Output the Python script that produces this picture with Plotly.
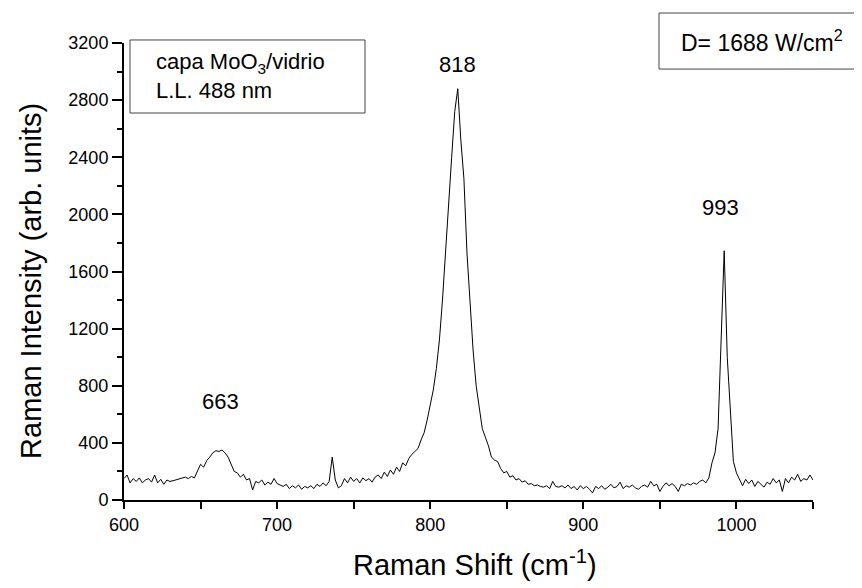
import plotly.graph_objects as go

# Raman shift (cm-1), 2 cm-1 steps from 600 to 1050
shift = list(range(600, 1052, 2))

intensity = [
    150, 175, 120, 150, 130, 155, 120, 140, 150, 125,   # 600-618
    175, 120, 145, 110, 140, 130, 135, 140, 145, 150,   # 620-638
    160, 150, 165, 155, 200, 250, 230, 275, 300, 330,   # 640-658
    345, 340, 350, 330, 300, 250, 200, 190, 160, 180,   # 660-678
    140, 150, 70, 130, 120, 140, 105, 125, 110, 150,    # 680-698
    115, 105, 95, 110, 80, 100, 85, 105, 75, 95,        # 700-718
    85, 100, 80, 110, 95, 120, 100, 130, 300, 140,      # 720-738
    85, 100, 150, 120, 160, 130, 150, 120, 155, 135,    # 740-758
    150, 125, 160, 175, 150, 195, 165, 210, 180, 230,   # 760-778
    200, 260, 240, 290, 320, 340, 360, 420, 470, 560,   # 780-798
    660, 770, 920, 1120, 1400, 1750, 2130, 2400, 2720, 2880,  # 800-818
    2520, 2250, 1730, 1400, 1050, 800, 640, 500, 440, 380,    # 820-838
    300, 280, 270, 220, 190, 200, 160, 170, 140, 150,   # 840-858
    125, 135, 110, 115, 100, 105, 95, 90, 100, 80,      # 860-878
    130, 95, 90, 100, 85, 105, 80, 95, 70, 100,         # 880-898
    80, 95, 75, 50, 95, 80, 100, 75, 90, 110,           # 900-918
    85, 95, 125, 80, 100, 90, 105, 85, 75, 95,          # 920-938
    105, 90, 130, 100, 110, 60, 95, 120, 100, 115,      # 940-958
    95, 60, 110, 100, 115, 105, 120, 110, 130, 140,     # 960-978
    120, 155, 260, 330, 500, 1150, 1745, 1000, 600, 270,  # 980-998
    190, 140, 100, 145, 115, 140, 95, 130, 110, 90,     # 1000-1018
    125, 110, 150, 120, 140, 60, 150, 120, 160, 140,    # 1020-1038
    180, 130, 150, 140, 175, 140,                       # 1040-1050
]

peak_pos = [662.7, 817.5, 989.3]
peak_y = [693, 3052, 2051]
peak_txt = ["663", "818", "993"]

x_ticks = [600, 700, 800, 900, 1000]
y_ticks = [0, 400, 800, 1200, 1600, 2000, 2400, 2800, 3200]

fig = go.Figure()
fig.add_trace(go.Scatter(x=shift, y=intensity, mode="lines",
                         line=dict(color="black", width=1), showlegend=False))

for px_, py_, t in zip(peak_pos, peak_y, peak_txt):
    fig.add_annotation(x=px_, y=py_, text=t, showarrow=False,
                       font=dict(size=22, color="black"))

# text boxes
fig.add_shape(type="rect", xref="paper", yref="paper",
              x0=0.0087, x1=0.3498, y0=0.8468, y1=1.0066,
              line=dict(color="#444444", width=1))
fig.add_annotation(xref="paper", yref="paper", x=0.043, y=0.9267,
                   xanchor="left", yanchor="middle", align="left", showarrow=False,
                   text="capa MoO<sub>3</sub>/vidrio<br>L.L. 488 nm",
                   font=dict(size=22, color="black"))

fig.add_shape(type="rect", xref="paper", yref="paper",
              x0=0.7765, x1=1.0668, y0=0.943, y1=1.0656,
              line=dict(color="#444444", width=1))
fig.add_annotation(xref="paper", yref="paper", x=0.926, y=1.0044,
                   xanchor="center", yanchor="middle", showarrow=False,
                   text="D= 1688 W/cm<sup>2</sup>",
                   font=dict(size=23, color="black"))

# axis titles
fig.add_annotation(xref="paper", yref="paper", x=0.51, y=-0.138,
                   xanchor="center", yanchor="middle", showarrow=False,
                   text="Raman Shift (cm<sup>-1</sup>)",
                   font=dict(size=29, color="black"))
fig.add_annotation(xref="paper", yref="paper", x=-0.136, y=0.48,
                   xanchor="center", yanchor="middle", showarrow=False, textangle=-90,
                   text="Raman Intensity (arb. units)",
                   font=dict(size=29, color="black"))

# page adds 8px body margin, so margins are offset to keep the plot in place
fig.update_layout(
    width=862, height=588,
    margin=dict(l=116, r=57, t=35, b=96),
    plot_bgcolor="white", paper_bgcolor="white",
    font=dict(family="Liberation Sans, Arial, sans-serif", color="black", size=18),
    xaxis=dict(
        range=[600, 1050], tickvals=x_ticks, ticks="outside", ticklen=7, tickwidth=1.5,
        tickcolor="black", showline=True, linecolor="black", linewidth=2,
        showgrid=False, zeroline=False, tickfont=dict(size=18),
        minor=dict(dtick=50, ticks="outside", ticklen=7, tickwidth=1.5, tickcolor="black"),
    ),
    yaxis=dict(
        range=[0, 3200], tickvals=y_ticks, ticks="outside", ticklen=10, tickwidth=1.5,
        tickcolor="black", showline=True, linecolor="black", linewidth=2,
        showgrid=False, zeroline=False, tickfont=dict(size=18),
        minor=dict(dtick=200, ticks="outside", ticklen=5, tickwidth=1.5, tickcolor="black"),
    ),
)

fig.write_html("out.html")
